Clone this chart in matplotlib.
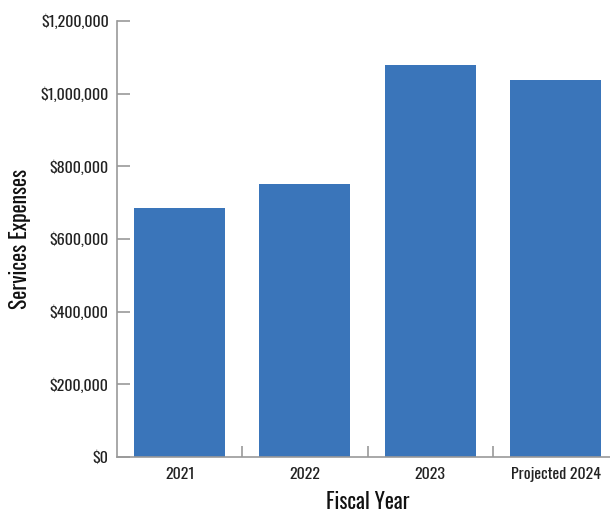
import matplotlib
matplotlib.use("Agg")
import matplotlib.pyplot as plt
from matplotlib import font_manager
from matplotlib.ticker import FuncFormatter, FixedLocator

categories = ["2021", "2022", "2023", "Projected 2024"]
values = [685000, 751000, 1079000, 1038000]
yticks = [0, 200000, 400000, 600000, 800000, 1000000, 1200000]

names = {f.name for f in font_manager.fontManager.ttflist}
fam = next((n for n in ["Oswald", "Barlow Condensed", "Roboto Condensed"] if n in names), "DejaVu Sans")
plt.rcParams["font.family"] = [fam, "DejaVu Sans"]

fig = plt.figure(figsize=(6.1, 5.15), dpi=100)
ax = fig.add_axes([117/610, 58/515, 501.3/610, 436/515])
x = list(range(len(categories)))
ax.bar(x, values, width=0.726, color="#3A75BA", zorder=2)
ax.set_xlim(-0.5, 3.5)
ax.set_ylim(0, 1200000)

ax.set_yticks(yticks)
ax.yaxis.set_major_formatter(FuncFormatter(lambda v, p: "${:,.0f}".format(v)))
ax.set_xticks(x)
ax.set_xticklabels(categories)
ax.xaxis.set_minor_locator(FixedLocator([0.5, 1.5, 2.5]))

for s in ["top", "right"]:
    ax.spines[s].set_visible(False)
for s in ["left", "bottom"]:
    ax.spines[s].set_color("#999999")
    ax.spines[s].set_linewidth(1.2)

ax.tick_params(axis="y", direction="in", length=9, color="#999999", width=1.2,
               labelsize=11.5, pad=6, labelcolor="#222222")
ax.tick_params(axis="x", which="major", length=0, labelsize=11.5, pad=7, labelcolor="#222222")
ax.tick_params(axis="x", which="minor", direction="in", length=8, color="#999999", width=1.2)

ax.set_xlabel("Fiscal Year", fontsize=15.5, labelpad=6.5, color="#111111")
ax.set_ylabel("Services Expenses", fontsize=15.5, labelpad=7, color="#111111")

fig.savefig("out.png", dpi=100)
